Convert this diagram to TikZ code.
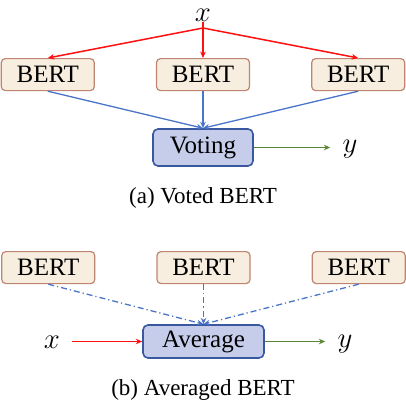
\documentclass[tikz,border=0pt]{standalone}
\usepackage{fontspec}
\setmainfont{Liberation Serif}
\newfontfamily\timesfont{Liberation Serif}
\usetikzlibrary{positioning,arrows.meta}
\definecolor{bertfill}{HTML}{F7EEDF}
\definecolor{bertline}{HTML}{C08570}
\definecolor{aggfill}{HTML}{C5CDEB}
\definecolor{aggline}{HTML}{3A58A0}
\definecolor{inred}{HTML}{FF1010}
\definecolor{midblue}{HTML}{4A74C8}
\definecolor{outgreen}{HTML}{5A8838}
\tikzset{
  bert/.style={draw=bertline, fill=bertfill, line width=0.6pt, rounded corners=2pt,
               minimum width=46.5pt, minimum height=16pt, inner sep=0pt,
               font=\timesfont\fontsize{12.5}{15}\selectfont},
  agg/.style={draw=aggline, fill=aggfill, line width=0.8pt, rounded corners=2.5pt,
              inner sep=0pt, font=\timesfont\fontsize{12.5}{15}\selectfont},
  var/.style={inner xsep=6pt, inner ysep=0pt, font=\fontsize{14}{16}\selectfont},
  caption/.style={font=\timesfont\fontsize{11.5}{14}\selectfont},
  tip/.style={-{Stealth[length=3.2pt, width=2.8pt]}},
  xin/.style={tip, draw=inred, line width=0.75pt},
  feed/.style={tip, draw=midblue, line width=0.65pt},
  feeddd/.style={feed, dash pattern=on 3pt off 1.5pt on 0.6pt off 1.5pt},
  yout/.style={tip, draw=outgreen, line width=0.6pt},
}
\begin{document}
\begin{tikzpicture}[node distance=18pt and 30.5pt, x=0.5pt, y=-0.5pt]
\useasboundingbox (0,0) rectangle (406,408);

% ---- (a) voted BERT ----
\node[agg, minimum width=50pt, minimum height=18.5pt] (vote) at (203,147.5) {Voting};
\node[bert, above=18.5pt of vote] (va2) {BERT};
\node[bert, left=of va2] (va1) {BERT};
\node[bert, right=of va2] (va3) {BERT};
\node[var] (xa) at (203,15) {$x$};
\coordinate (xsplit) at (203,28);
\node[var] (ya) at (350,149) {$y$};
\node[caption] (capa) at (203,198) {(a) Voted BERT};

\draw[xin, -] (xa) -- (xsplit);
\foreach \b in {va1,va2,va3} {\draw[xin] (xsplit) -- (\b.north);}
\foreach \b in {va1,va2,va3} {\draw[feed] (\b.south) -- (vote.north);}
\draw[yout] (vote.east) -- (ya.west |- vote.east);

% ---- (b) averaged BERT ----
\node[agg, minimum width=60.5pt, minimum height=16.5pt] (avg) at (203.5,341.5) {Average};
\node[bert, above=20pt of avg] (vb2) {BERT};
\node[bert, left=of vb2] (vb1) {BERT};
\node[bert, right=of vb2] (vb3) {BERT};
\node[var] (xb) at (52,342) {$x$};
\node[var] (yb) at (345,344) {$y$};
\node[caption] (capb) at (203,390) {(b) Averaged BERT};

\foreach \b in {vb1,vb2,vb3} {\draw[feeddd] (\b.south) -- (avg.north);}
\draw[xin] (xb.east |- avg.west) -- (avg.west);
\draw[yout] (avg.east) -- (yb.west |- avg.east);
\end{tikzpicture}
\end{document}
